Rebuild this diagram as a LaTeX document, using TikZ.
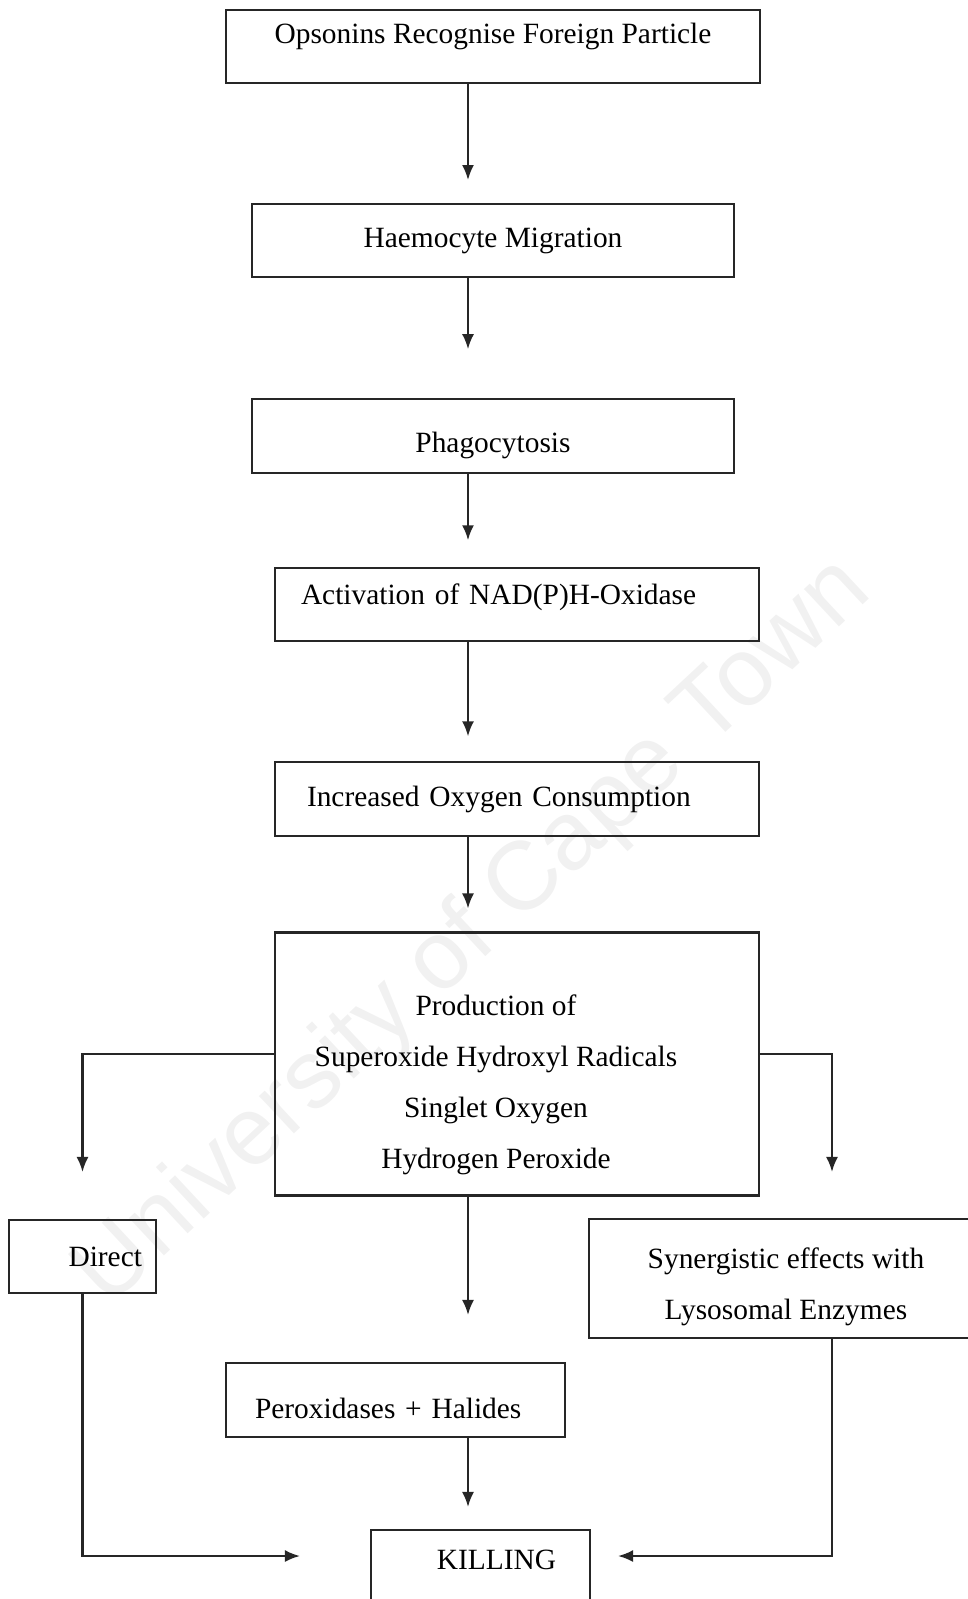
\documentclass[tikz,border=0pt]{standalone}
\usepackage{fontspec}
\setmainfont{Liberation Serif}
\setsansfont{Liberation Sans}
\usetikzlibrary{positioning, arrows.meta}

\tikzset{
    box/.style={draw=black!85, line width=2.1pt, minimum height=73pt, inner sep=0pt,
        font=\fontsize{29.4}{51}\selectfont},
    arr/.style={draw=black!85, line width=2.1pt, -{Latex[length=15pt, width=12pt]}},
}

\begin{document}
\begin{tikzpicture}[x=1pt, y=-1pt]
        \useasboundingbox (0,0) rectangle (968,1599);
        % watermark
        \node[rotate=43, text=gray!11, font=\sffamily\fontsize{97}{97}\selectfont] (wmark) at (474,933) {University of Cape Town};
        \coordinate (spine) at (468,0);
        \coordinate (rcol) at (832,0);

        \node[box, minimum width=534pt, text height=20pt, text depth=26pt] (opsonins) at (493,46.5) {Opsonins Recognise Foreign Particle};
        \node[box, minimum width=482pt, below=119pt of opsonins] (haemocyte) {Haemocyte Migration};
        \node[box, minimum width=482pt, minimum height=74pt, text height=36pt, text depth=4pt, below=120pt of haemocyte] (phago) {Phagocytosis};
        \node[box, minimum width=484pt, align=left, inner xsep=26pt, text width=432pt, text height=20pt, text depth=20pt, below=93pt of phago, xshift=24pt] (nadph) {Activation of NAD(P)H-Oxidase};
        \node[box, minimum width=484pt, minimum height=74pt, align=left, inner xsep=32pt, text width=420pt, below=119pt of nadph] (oxygen) {Increased Oxygen Consumption};
        \node[box, minimum width=484pt, minimum height=263pt, align=center, below=94pt of oxygen] (production)
            {\mbox{}\\[11pt]Production of\kern42pt\\Superoxide Hydroxyl Radicals\kern42pt\\Singlet Oxygen\kern42pt\\Hydrogen Peroxide\kern42pt};

        \node[box, minimum width=147pt, align=right, inner xsep=14pt, text width=119pt] (direct) at (82.5,1256.5) {Direct};
        \node[box, minimum width=394pt, minimum height=119pt, align=center] (synergy) at (786,1278.5) {\mbox{}\\[-13pt]Synergistic effects with\\Lysosomal Enzymes};
        \node[box, minimum width=339pt, minimum height=74pt, align=left, inner xsep=29pt, text width=281pt, text height=38pt, text depth=2pt] (peroxidase) at (395.5,1400) {Peroxidases + Halides};
        \node[box, minimum width=219pt, minimum height=80pt, align=right, inner xsep=34pt, text width=151pt, text height=20pt, text depth=22pt] (killing) at (480.5,1570) {KILLING};

        \draw[arr, shorten >=23pt] (opsonins.south -| spine) -- (haemocyte.north -| spine);
        \draw[arr, shorten >=49pt] (haemocyte.south -| spine) -- (phago.north -| spine);
        \draw[arr, shorten >=27pt] (phago.south -| spine) -- (nadph.north -| spine);
        \draw[arr, shorten >=25pt] (nadph.south -| spine) -- (oxygen.north -| spine);
        \draw[arr, shorten >=23pt] (oxygen.south -| spine) -- (production.north -| spine);
        \draw[arr, shorten >=47pt] (production.south -| spine) -- (peroxidase.north -| spine);
        \draw[arr, shorten >=22pt] (peroxidase.south -| spine) -- (killing.north -| spine);
        \draw[arr, shorten >=47pt] ([yshift=10pt]production.west) -| (direct.north);
        \draw[arr, shorten >=46pt] ([yshift=10pt]production.east) -| (synergy.north -| rcol);
        \draw[arr, shorten >=70pt] (direct.south) |- ([yshift=14pt]killing.west);
        \draw[arr, shorten >=27pt] (synergy.south -| rcol) |- ([yshift=14pt]killing.east);
\end{tikzpicture}
\end{document}
